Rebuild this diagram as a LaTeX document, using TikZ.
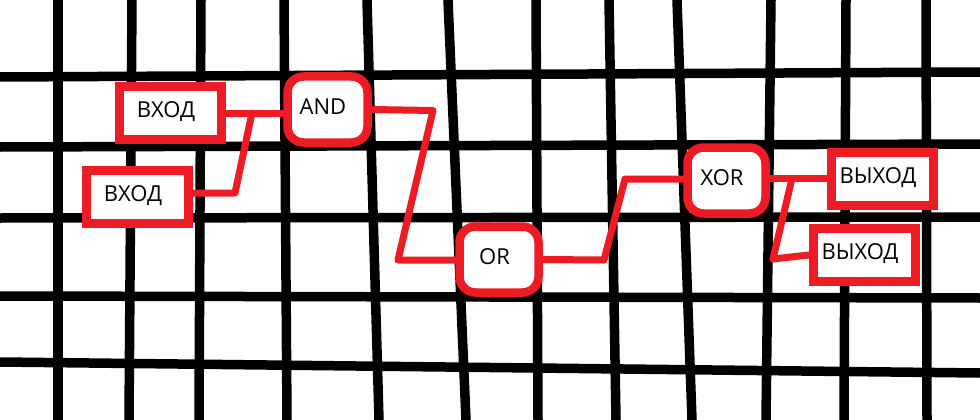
\documentclass[tikz,border=0pt]{standalone}
\usepackage{fontspec}
\setmainfont{Open Sans}
\definecolor{pred}{RGB}{237,28,36}
\begin{document}
\begin{tikzpicture}[x=1pt,y=-1pt,
  gridline/.style={line width=9.5pt, black},
  wire/.style={line width=7pt, pred, line join=round, line cap=round},
  txt/.style={font=\fontsize{22}{25}\selectfont, text height=15.5pt, text depth=0pt, inner sep=0pt},
  rbox/.style={draw=pred, line width=9pt, fill=white, minimum width=102pt, minimum height=53pt, inner sep=0pt},
  gate/.style={draw=pred, line width=8.5pt, fill=white, rounded corners=16pt, minimum width=80pt, minimum height=66pt, inner sep=0pt},
  lab/.style={label={[txt,xshift=-4.5pt,yshift=3pt]center:#1}}]
\useasboundingbox (0,0) rectangle (980,420);
\fill[white] (0,0) rectangle (980,420);
% grid
\draw[gridline] (0,77) -- (980,72);
\draw[gridline] (0,147) -- (980,144);
\draw[gridline] (0,218) -- (980,217);
\draw[gridline] (0,296) -- (980,298);
\draw[gridline] (0,362) -- (980,373);
\draw[gridline] (58,0) -- (58,420);
\draw[gridline] (132,0) -- (129,420);
\draw[gridline] (201,0) -- (199,420);
\draw[gridline] (284,0) -- (287,420);
\draw[gridline] (367,0) -- (379,420);
\draw[gridline] (448,0) -- (466,420);
\draw[gridline] (536,0) -- (538,420);
\draw[gridline] (609,0) -- (616,420);
\draw[gridline] (677,0) -- (692,420);
\draw[gridline] (771,0) -- (766,420);
\draw[gridline] (846,0) -- (844,420);
\draw[gridline] (926,0) -- (927,420);
% boxes
\node[rbox, lab=ВХОД] (in1) at (170.5,113) {};
\node[rbox, lab=ВХОД] (in2) at (137.5,197) {};
\node[gate, lab=AND] (and) at (327.5,109.5) {};
\node[gate, minimum width=79pt, lab=OR] (or) at (499,259.5) {};
\node[gate, minimum width=78pt, lab=XOR] (xor) at (726.5,180.5) {};
\node[rbox, lab=ВЫХОД] (out1) at (882.5,178.5) {};
\node[rbox, lab=ВЫХОД] (out2) at (864.5,255) {};
% wire points
\coordinate (j1) at (252,113);
\coordinate (k1) at (235,193);
\coordinate (a1) at (433,110.5);
\coordinate (a2) at (398,260);
\coordinate (o1) at (604,260);
\coordinate (o2) at (625,179);
\coordinate (b1) at (792,178.5);
\coordinate (b2) at (773,259);
% wires
\draw[wire] (in1.east) -- (in1.east -| and.west);
\draw[wire] ([yshift=4pt]in2.east) -- (k1) -- (j1);
\draw[wire] (and.east) -- (a1) -- (a2) -- (a2 -| or.west);
\draw[wire] (or.east) -- (o1) -- (o2) -- (o2 -| xor.west);
\draw[wire] (xor.east |- out1.west) -- (out1.west);
\draw[wire] (b1) -- (b2) -- (out2.west);
\end{tikzpicture}
\end{document}
